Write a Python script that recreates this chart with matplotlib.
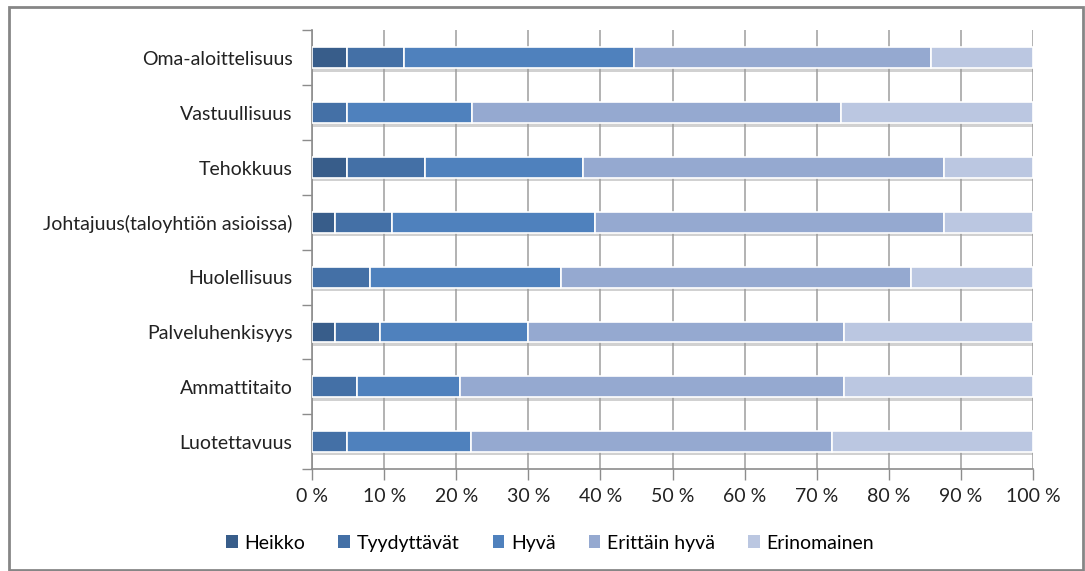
import matplotlib.pyplot as plt
import matplotlib.patheffects as pe
from matplotlib.patches import Rectangle, Patch
import numpy as np

plt.rcParams['font.family'] = ['Lato', 'DejaVu Sans']

# Survey categories (top to bottom) and answer shares in percent
categories = ["Oma-aloittelisuus", "Vastuullisuus", "Tehokkuus",
              "Johtajuus(taloyhtiön asioissa)", "Huolellisuus",
              "Palveluhenkisyys", "Ammattitaito", "Luotettavuus"]
series = ["Heikko", "Tyydyttävät", "Hyvä", "Erittäin hyvä", "Erinomainen"]

heikko = [4.8, 0.0, 4.8, 3.2, 0.0, 3.2, 0.0, 0.0]
tyydyttavat = [7.9, 4.8, 10.9, 7.9, 8.0, 6.2, 6.3, 4.8]
hyva = [31.9, 17.4, 21.9, 28.2, 26.5, 20.5, 14.2, 17.2]
erittain_hyva = [41.3, 51.1, 50.1, 48.4, 48.6, 43.9, 53.3, 50.1]
erinomainen = [14.1, 26.7, 12.3, 12.3, 16.9, 26.2, 26.2, 27.9]

colors = ["#385D8A", "#4470A6", "#4F81BD", "#95A9D0", "#BBC7E1"]

fig = plt.figure(figsize=(10.85, 5.71), dpi=100)
ax = fig.add_axes([0.2876, 0.1786, 0.6645, 0.768])

# outer chart frame
fig.patches.append(Rectangle((0.008, 0.002), 0.99, 0.986, transform=fig.transFigure,
                             fill=False, edgecolor="#868686", linewidth=2))

y = np.arange(len(categories))[::-1]
left = np.zeros(len(categories))
shadow = [pe.SimplePatchShadow(offset=(0.5, -2.5), shadow_rgbFace="#9a9a9a", alpha=0.45),
          pe.Normal()]
for name, vals, col in zip(series, [heikko, tyydyttavat, hyva, erittain_hyva, erinomainen], colors):
    vals = np.array(vals)
    ax.barh(y, vals, left=left, height=0.38, color=col, edgecolor="white",
            linewidth=1.2, path_effects=shadow, zorder=3)
    left += vals

ax.set_xlim(0, 100)
ax.set_ylim(-0.5, len(categories) - 0.5)
ax.set_xticks(np.arange(0, 101, 10))
ax.set_xticklabels([f"{v} %" for v in range(0, 101, 10)], fontsize=14, color="#222222")
ax.set_yticks(y)
ax.set_yticklabels(categories, fontsize=14, color="#222222")
ax.tick_params(axis="y", length=0, pad=14)
ax.tick_params(axis="x", length=8, width=1, color="#8c8c8c", pad=6)

# small ticks between categories on the value axis
ax.set_yticks(np.arange(-0.5, len(categories), 1.0), minor=True)
ax.tick_params(axis="y", which="minor", length=7, width=1, color="#8c8c8c")

ax.grid(axis="x", color="#a6a6a6", linewidth=1.2, zorder=0)
for s in ["top", "right"]:
    ax.spines[s].set_visible(False)
for s in ["left", "bottom"]:
    ax.spines[s].set_color("#8c8c8c")
    ax.spines[s].set_linewidth(1.2)

# plain square legend keys (no shadow)
handles = [Patch(facecolor=c, edgecolor="none", label=n) for n, c in zip(series, colors)]
fig.legend(handles=handles, loc="center", bbox_to_anchor=(0.507, 0.049), ncol=5,
           frameon=False, fontsize=14, handlelength=0.6, handleheight=0.6,
           handletextpad=0.35, columnspacing=1.7)

fig.savefig("out.png", dpi=100)
